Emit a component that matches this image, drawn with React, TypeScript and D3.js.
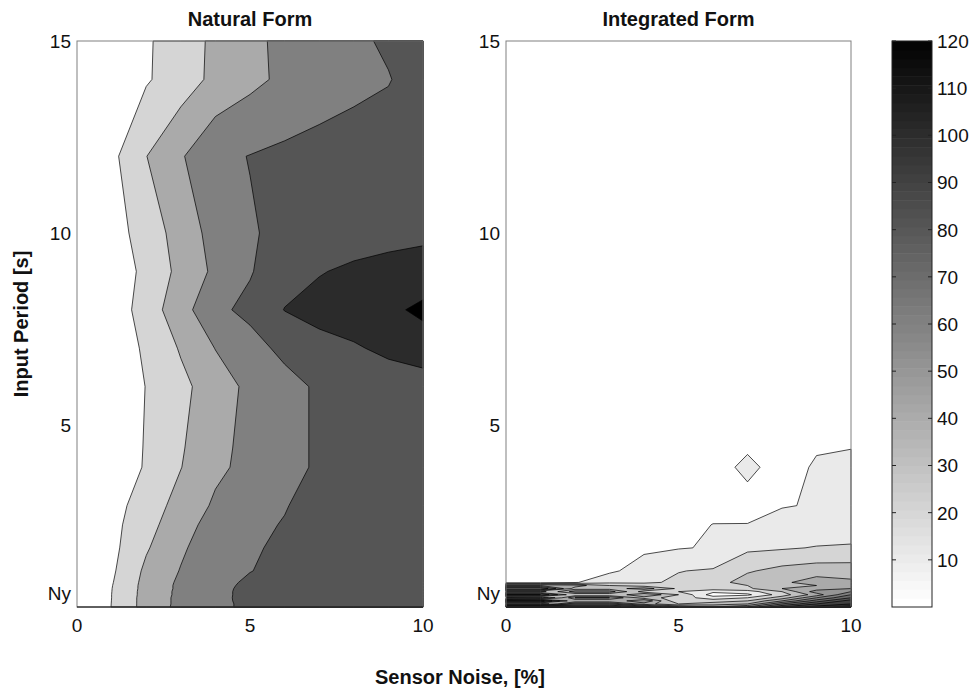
import React from 'react';
import * as d3 from 'd3';

// grid: sensor noise [%] (columns) and input period [s] (rows, bottom to top)
const noise = [0, 1, 2, 3, 4, 5, 6, 7, 8, 9, 10];
const period = [0.26, 0.34, 0.42, 0.5, 0.58, 0.66, 0.74, 0.82, 0.9, 1.2, 1.8, 2.4, 2.9, 3.9, 4.4, 6, 7, 8, 9, 10, 12, 14, 15];

// natural form, one row per period
const natural = [
  [3, 20.3, 47.5, 65.5, 76, 83.5, 89, 92, 94, 95, 96],
  [3, 20.2, 47.5, 65, 76, 83.5, 89, 92, 94, 95, 96],
  [3, 20.1, 47.5, 65, 76, 84, 89, 92, 94, 95, 96],
  [3, 20.0, 47.5, 65, 76, 84.2, 89, 92, 94, 95, 96],
  [3, 20.0, 47, 64.5, 76, 84, 89, 92, 94, 95, 96],
  [3, 19.8, 47, 64.5, 76, 84, 89, 92, 94, 95, 96],
  [3, 19.6, 46.5, 64, 75.5, 84, 89, 92, 94, 95, 96],
  [3, 19.2, 46.5, 64, 75, 83.5, 88.5, 91.5, 93.5, 95, 96],
  [3, 18.6, 46, 63.5, 74, 83, 88, 91, 93, 95, 96],
  [4, 16.7, 44, 61, 72, 79.5, 85, 90, 93, 95, 96],
  [5, 14.5, 38, 57, 72, 78, 83, 89, 92, 94, 95],
  [4, 14, 33, 52, 68, 76, 81, 88, 91, 93, 94],
  [3, 12, 30, 47, 63, 72, 79, 87, 90, 92, 93],
  [2, 6, 22, 39.5, 56, 65.5, 73, 83, 86, 88, 89],
  [2, 6, 21.5, 38, 55, 65, 73, 83, 87, 89, 90],
  [2, 5.5, 20.5, 35, 50, 64.7, 73, 83, 87, 90, 92.6],
  [2, 5.5, 23.6, 41.8, 60.5, 72.5, 85, 94, 98, 104, 108],
  [3, 7, 29.5, 52, 75.5, 85, 100.5, 106, 110, 115, 125],
  [5, 10, 24, 46, 64, 78.5, 93, 99, 103, 105, 106],
  [6, 12, 28, 49, 67, 78.5, 84, 88, 92, 95, 97],
  [8, 15, 39.6, 58, 76, 80.5, 84, 87, 89, 90, 91],
  [5, 10, 18, 30, 45, 55, 64, 70, 75, 79, 89],
  [5, 10, 18, 28, 45, 55, 65, 70, 76, 83, 88],
];

// integrated form, one row per period
const integrated = [
  [110, 110, 95, 95, 80, 60, 50, 60, 90, 105, 115],
  [30, 30, 70, 70, 45, 30, 35, 40, 70, 90, 100],
  [85, 85, 40, 40, 60, 20, 25, 30, 50, 75, 95],
  [5, 8, 60, 60, 35, 25, 15, 20, 35, 60, 80],
  [70, 70, 30, 30, 50, 30, 5, 8, 25, 45, 70],
  [25, 25, 55, 55, 25, 20, 12, 15, 30, 55, 60],
  [80, 80, 35, 35, 45, 28, 25, 28, 40, 45, 50],
  [50, 50, 45, 30, 25, 22, 24, 30, 35, 40, 45],
  [5, 5, 9, 18, 18.5, 21.5, 26, 34, 38, 45, 42],
  [3, 3, 4, 8, 15, 19.7, 21, 29, 33, 35, 35],
  [2, 2, 3, 4, 8, 9.5, 10.7, 18, 19, 20.5, 21],
  [2, 2, 2, 3, 4, 5, 10.3, 10.5, 12, 14, 15],
  [2, 2, 2, 2, 3, 4, 5, 3.5, 9.7, 10.4, 11],
  [2, 2, 2, 2, 2, 3, 3, 14, 3, 12, 13],
  [2, 2, 2, 2, 2, 3, 3, 8, 6, 8.7, 9.8],
  [1.5, 1.5, 1.5, 2, 2, 2, 2.5, 3, 3, 4, 5],
  [1.5, 1.5, 1.5, 1.5, 2, 2, 2, 2.5, 2.5, 3, 4],
  [1.2, 1.2, 1.5, 1.5, 1.5, 2, 2, 2, 2.5, 3, 3.5],
  [1.2, 1.2, 1.2, 1.5, 1.5, 1.5, 2, 2, 2, 2.5, 3],
  [1, 1, 1.2, 1.2, 1.5, 1.5, 1.5, 2, 2, 2, 2.5],
  [1, 1, 1, 1.2, 1.2, 1.5, 1.5, 1.5, 2, 2, 2],
  [1, 1, 1, 1, 1.2, 1.2, 1.5, 1.5, 1.5, 2, 2],
  [1, 1, 1, 1, 1, 1.2, 1.2, 1.5, 1.5, 1.5, 2],
];

const naturalLevels = [20, 40, 60, 80, 100, 120];
const integratedLevels = [10, 20, 30, 40, 50, 60, 70, 80, 90, 100, 110, 120];
const xTicks = [0, 5, 10];
const yTicks = [0.62, 5, 10, 15];
const yTickLabels = ['Ny', '5', '10', '15'];
const barTicks = [10, 20, 30, 40, 50, 60, 70, 80, 90, 100, 110, 120];

const W = 972;
const H = 692;
const top = 41;
const bottom = 607;
const font = '"Liberation Sans", Arial, Helvetica, sans-serif';

const shade = d3.scaleLinear<string>().domain([0, 120]).range(['#ffffff', '#000000']).clamp(true);

const yScale = d3.scaleLinear().domain([period[0], 15]).range([bottom, top]);
const colIdx = d3.scaleLinear().domain(d3.range(noise.length)).range(noise).clamp(true);
const rowIdx = d3.scaleLinear().domain(d3.range(period.length)).range(period).clamp(true);

function ContourPanel({ grid, levels, x0, x1, title }: { grid: number[][]; levels: number[]; x0: number; x1: number; title: string }) {
  const xScale = d3.scaleLinear().domain([0, 10]).range([x0, x1]);
  const gen = d3.contours().size([noise.length, period.length]).thresholds(levels);
  const bands = gen(grid.flat());
  const pt = (p: number[]) => {
    const px = xScale(colIdx(p[0] - 0.5));
    const py = yScale(rowIdx(p[1] - 0.5));
    return `${px.toFixed(2)},${py.toFixed(2)}`;
  };
  const toPath = (mp: d3.ContourMultiPolygon) =>
    mp.coordinates.map((poly) => poly.map((ring) => 'M' + ring.map(pt).join('L') + 'Z').join('')).join('');

  return (
    <g>
      <rect x={x0} y={top} width={x1 - x0} height={bottom - top} fill="#ffffff" />
      {bands.map((b, i) => (
        <path key={i} d={toPath(b)} fill={shade(b.value)} fillRule="evenodd" stroke="#000" strokeWidth={0.7} strokeLinejoin="round" />
      ))}
      <rect x={x0} y={top} width={x1 - x0} height={bottom - top} fill="none" stroke="#808080" strokeWidth={1} />
      <line x1={x0} x2={x1} y1={bottom} y2={bottom} stroke="#000" strokeWidth={1} />
      {xTicks.map((t) => (
        <text key={t} x={xScale(t)} y={632} textAnchor="middle" fontSize={19} fontFamily={font} fill="#111">
          {t}
        </text>
      ))}
      {yTicks.map((t, i) => (
        <text key={t} x={x0 - 6} y={yScale(t)} dy="0.36em" textAnchor="end" fontSize={19} fontFamily={font} fill="#111">
          {yTickLabels[i]}
        </text>
      ))}
      <text x={(x0 + x1) / 2} y={26} textAnchor="middle" fontSize={20} fontWeight="bold" fontFamily={font} fill="#111">
        {title}
      </text>
    </g>
  );
}

function ColorBar({ x0, x1 }: { x0: number; x1: number }) {
  const cb = d3.scaleLinear().domain([0, 120]).range([bottom, top]);
  const steps = d3.range(64);
  const step = 120 / 64;
  return (
    <g>
      {steps.map((s) => (
        <rect key={s} x={x0} width={x1 - x0} y={cb((s + 1) * step)} height={cb(s * step) - cb((s + 1) * step) + 0.5} fill={shade(s * step)} />
      ))}
      <rect x={x0} y={top} width={x1 - x0} height={bottom - top} fill="none" stroke="#222" strokeWidth={1} />
      {barTicks.map((t) => (
        <g key={t}>
          <line x1={x0} x2={x0 + 4} y1={cb(t)} y2={cb(t)} stroke="#222" />
          <line x1={x1 - 4} x2={x1} y1={cb(t)} y2={cb(t)} stroke="#222" />
          <text x={x1 + 5} y={cb(t)} dy="0.36em" fontSize={19} fontFamily={font} fill="#111">
            {t}
          </text>
        </g>
      ))}
    </g>
  );
}

export default function App() {
  return (
    <svg width={W} height={H} style={{ position: 'absolute', left: 0, top: 0, background: '#fff' }}>
      <ContourPanel grid={natural} levels={naturalLevels} x0={77} x1={423} title="Natural Form" />
      <ContourPanel grid={integrated} levels={integratedLevels} x0={506} x1={851} title="Integrated Form" />
      <ColorBar x0={892} x1={932} />
      <text transform={`translate(28,${(top + bottom) / 2}) rotate(-90)`} textAnchor="middle" fontSize={20} fontWeight="bold" fontFamily={font} fill="#111">
        Input Period [s]
      </text>
      <text x={460} y={684} textAnchor="middle" fontSize={20} fontWeight="bold" fontFamily={font} fill="#111">
        Sensor Noise, [%]
      </text>
    </svg>
  );
}
